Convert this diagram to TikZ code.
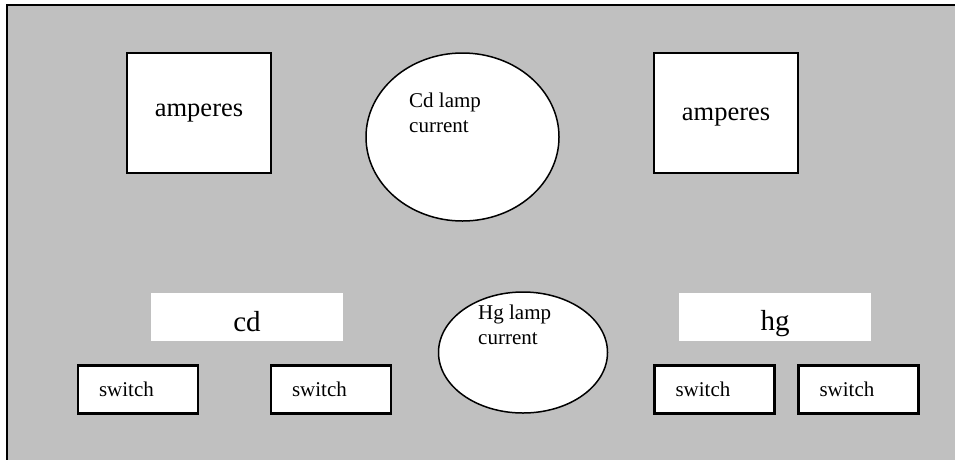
\documentclass[tikz,border=0pt]{standalone}
\usepackage{fontspec}
\setmainfont{Liberation Serif}
\usetikzlibrary{shapes.geometric}

\tikzset{
  meterbox/.style={draw, line width=2.5pt, fill=white, minimum width=144pt, minimum height=120pt, inner sep=0pt},
  metertext/.style={anchor=base, inner sep=0pt, font=\fontsize{26.5}{30}\selectfont},
  lampoval/.style={draw, ellipse, line width=1.5pt, fill=white, inner sep=0pt},
  lamptext/.style={anchor=north west, inner sep=0pt, align=left, font=\fontsize{21}{25}\selectfont},
  namebar/.style={fill=white, minimum width=192pt, minimum height=48pt, inner sep=0pt},
  nametext/.style={anchor=base, inner sep=0pt, font=\fontsize{29}{34}\selectfont},
  switchbox/.style={draw, line width=2.5pt, fill=white, minimum width=120pt, minimum height=48pt,
    text width=78pt, inner xsep=21pt, align=left, font=\fontsize{21}{25}\selectfont}
}

\begin{document}
\begin{tikzpicture}[x=1pt, y=-1pt]

\useasboundingbox (0,0) rectangle (955,459);
\begin{scope}
\clip (0,0) rectangle (955,459);
\draw [line width=2.5pt, fill={rgb,255:red,192;green,192;blue,192}] (7,5) rectangle (970,475);
\end{scope}

% Top row
\node [meterbox] (cdamp) at (199,113) {};
\node [metertext] (cdamptext) at (199,116) {amperes};
\node [meterbox] (hgamp) at (726,113) {};
\node [metertext] (hgamptext) at (726,120) {amperes};
\node [lampoval, minimum width=193pt, minimum height=168pt] (cdlamp) at (462.5,137) {};
\node [lamptext] (cdlabel) at (409,93) {Cd lamp\\current};

% Bottom row
\node [namebar] (cdbar) at (247,317) {};
\node [nametext] (cdname) at (247,331) {cd};
\node [namebar] (hgbar) at (775,317) {};
\node [nametext] (hgname) at (775,330) {hg};
\node [lampoval, minimum width=169pt, minimum height=121pt] (hglamp) at (523,352.5) {};
\node [lamptext] (hglabel) at (478,305) {Hg lamp\\current};

% Switches
\node [switchbox] (cdswa) at (138,389.5) {switch};
\node [switchbox] (cdswb) at (331,389.5) {switch};
\node [switchbox] (hgswa) at (714.5,389.5) {switch};
\node [switchbox] (hgswb) at (858.5,389.5) {switch};

\end{tikzpicture}
\end{document}
